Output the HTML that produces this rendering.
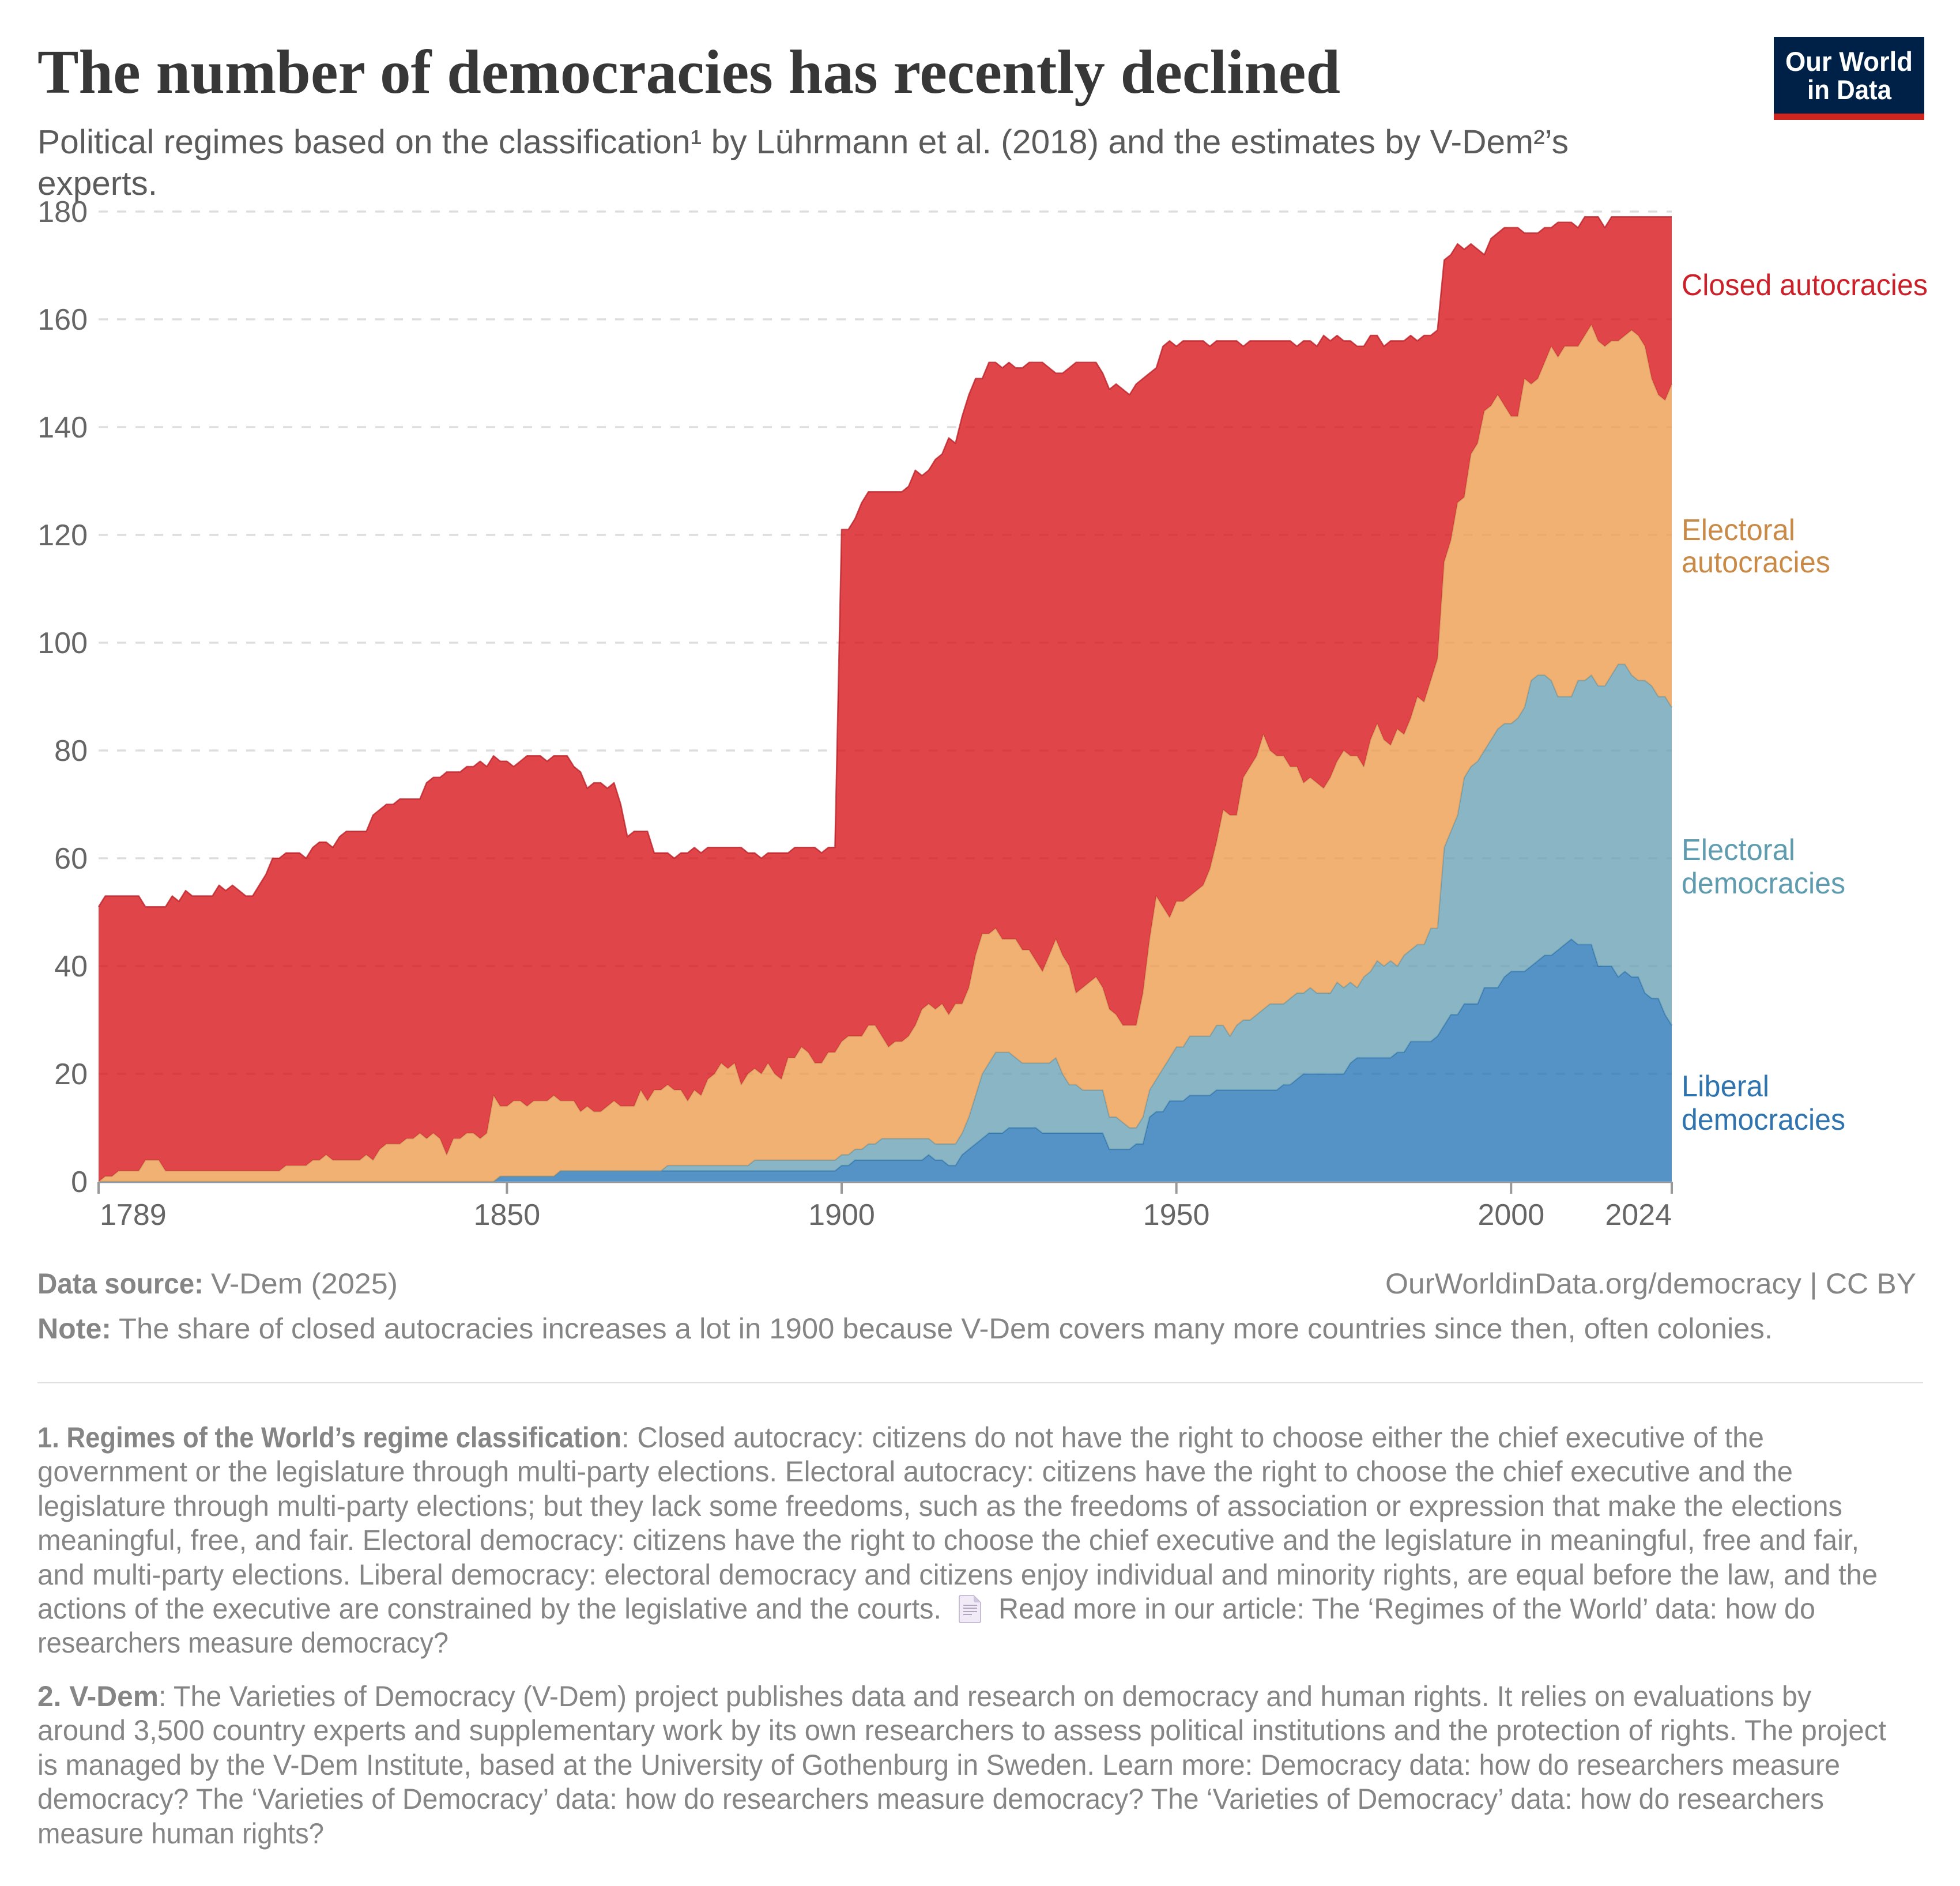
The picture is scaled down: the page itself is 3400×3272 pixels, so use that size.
<!DOCTYPE html>
<html lang="en">
<head>
<meta charset="utf-8">
<title>The number of democracies has recently declined</title>
<style>
html,body{margin:0;padding:0;background:#fff;}
svg{display:block;}
text{font-family:"Liberation Sans",Arial,sans-serif;}
.title{font-family:"Liberation Serif","Times New Roman",serif;font-weight:700;font-size:108px;fill:#373737;}
.sub{font-size:58px;fill:#5b5b5b;}
.foot{font-size:50px;fill:#858585;}
.note{font-size:50px;fill:#858585;}
.b{font-weight:700;}
.lab{font-size:52px;}
.tick{font-size:52px;fill:#666;}
</style>
</head>
<body>
<svg id="chart" xmlns="http://www.w3.org/2000/svg" width="3400" height="3272" viewBox="0 0 3400 3272">
<rect x="0" y="0" width="3400" height="3272" fill="#ffffff"/>

<text class="title" x="65" y="161" textLength="2260" lengthAdjust="spacingAndGlyphs">The number of democracies has recently declined</text>
<text class="sub" x="65" y="266" textLength="2656" lengthAdjust="spacingAndGlyphs">Political regimes based on the classification¹ by Lührmann et al. (2018) and the estimates by V-Dem²’s</text>
<text class="sub" x="65" y="338" textLength="208" lengthAdjust="spacingAndGlyphs">experts.</text>

<g>
<rect x="3077" y="64" width="261" height="133" fill="#002147"/>
<rect x="3077" y="197" width="261" height="11" fill="#ce261e"/>
<text x="3097" y="123" font-size="47" font-weight="700" fill="#ffffff" textLength="221" lengthAdjust="spacingAndGlyphs">Our World</text>
<text x="3135" y="172" font-size="47" font-weight="700" fill="#ffffff" textLength="146" lengthAdjust="spacingAndGlyphs">in Data</text>
</g>

<g id="grid"></g>
<g id="areas"></g>
<g id="axes"></g>

<text class="lab" x="2917" y="512" fill="#cb2029" textLength="427" lengthAdjust="spacingAndGlyphs">Closed autocracies</text>
<g>
<text class="lab" x="2917" y="937" fill="#c98a48" textLength="197" lengthAdjust="spacingAndGlyphs">Electoral</text>
<text class="lab" x="2917" y="993" fill="#c98a48" textLength="258" lengthAdjust="spacingAndGlyphs">autocracies</text>
</g>
<g>
<text class="lab" x="2917" y="1492" fill="#5f9cb0" textLength="197" lengthAdjust="spacingAndGlyphs">Electoral</text>
<text class="lab" x="2917" y="1550" fill="#5f9cb0" textLength="284" lengthAdjust="spacingAndGlyphs">democracies</text>
</g>
<g>
<text class="lab" x="2917" y="1902" fill="#2f74ae" textLength="152" lengthAdjust="spacingAndGlyphs">Liberal</text>
<text class="lab" x="2917" y="1960" fill="#2f74ae" textLength="284" lengthAdjust="spacingAndGlyphs">democracies</text>
</g>

<text class="note b" x="65" y="2244" textLength="288" lengthAdjust="spacingAndGlyphs">Data source:</text>
<text class="note" x="366" y="2244" textLength="324" lengthAdjust="spacingAndGlyphs">V-Dem (2025)</text>
<text class="note" x="2403" y="2244" textLength="921" lengthAdjust="spacingAndGlyphs">OurWorldinData.org/democracy | CC BY</text>
<text class="note b" x="65" y="2322" textLength="128" lengthAdjust="spacingAndGlyphs">Note:</text>
<text class="note" x="206" y="2322" textLength="2869" lengthAdjust="spacingAndGlyphs">The share of closed autocracies increases a lot in 1900 because V-Dem covers many more countries since then, often colonies.</text>
<line x1="65" y1="2399" x2="3336" y2="2399" stroke="#e0e0e0" stroke-width="2"/>

<g>
<text class="foot b" x="65" y="2511" textLength="1013" lengthAdjust="spacingAndGlyphs">1. Regimes of the World’s regime classification</text>
<text class="foot" x="1078" y="2511" textLength="1982" lengthAdjust="spacingAndGlyphs">: Closed autocracy: citizens do not have the right to choose either the chief executive of the</text>
<text class="foot" x="65" y="2570" textLength="3045" lengthAdjust="spacingAndGlyphs">government or the legislature through multi-party elections. Electoral autocracy: citizens have the right to choose the chief executive and the</text>
<text class="foot" x="65" y="2630" textLength="3131" lengthAdjust="spacingAndGlyphs">legislature through multi-party elections; but they lack some freedoms, such as the freedoms of association or expression that make the elections</text>
<text class="foot" x="65" y="2689" textLength="3160" lengthAdjust="spacingAndGlyphs">meaningful, free, and fair. Electoral democracy: citizens have the right to choose the chief executive and the legislature in meaningful, free and fair,</text>
<text class="foot" x="65" y="2749" textLength="3192" lengthAdjust="spacingAndGlyphs">and multi-party elections. Liberal democracy: electoral democracy and citizens enjoy individual and minority rights, are equal before the law, and the</text>
<text class="foot" x="65" y="2808" textLength="1568" lengthAdjust="spacingAndGlyphs">actions of the executive are constrained by the legislative and the courts.</text>
<g>
<path d="M1667 2768 H1689 L1701 2780 V2812 Q1701 2815 1698 2815 H1667 Q1664 2815 1664 2812 V2771 Q1664 2768 1667 2768 Z" fill="#f1ebf7" stroke="#b9adc9" stroke-width="1.5"/>
<path d="M1689 2768 L1701 2780 H1692 Q1689 2780 1689 2777 Z" fill="#cfc5de"/>
<path d="M1671 2785 H1695 M1671 2790 H1695 M1671 2796 H1695 M1671 2801 H1686" stroke="#9a8fac" stroke-width="1.5" fill="none"/>
</g>
<text class="foot" x="1732" y="2808" textLength="1417" lengthAdjust="spacingAndGlyphs">Read more in our article: The ‘Regimes of the World’ data: how do</text>
<text class="foot" x="65" y="2867" textLength="713" lengthAdjust="spacingAndGlyphs">researchers measure democracy?</text>
</g>

<g>
<text class="foot b" x="65" y="2960" textLength="210" lengthAdjust="spacingAndGlyphs">2. V-Dem</text>
<text class="foot" x="275" y="2960" textLength="2867" lengthAdjust="spacingAndGlyphs">: The Varieties of Democracy (V-Dem) project publishes data and research on democracy and human rights. It relies on evaluations by</text>
<text class="foot" x="65" y="3019" textLength="3207" lengthAdjust="spacingAndGlyphs">around 3,500 country experts and supplementary work by its own researchers to assess political institutions and the protection of rights. The project</text>
<text class="foot" x="65" y="3079" textLength="3127" lengthAdjust="spacingAndGlyphs">is managed by the V-Dem Institute, based at the University of Gothenburg in Sweden. Learn more: Democracy data: how do researchers measure</text>
<text class="foot" x="65" y="3138" textLength="3099" lengthAdjust="spacingAndGlyphs">democracy? The ‘Varieties of Democracy’ data: how do researchers measure democracy? The ‘Varieties of Democracy’ data: how do researchers</text>
<text class="foot" x="65" y="3198" textLength="497" lengthAdjust="spacingAndGlyphs">measure human rights?</text>
</g>
</svg>

<script>
const firstYear = 1789;

const liberalDemocracies = [
0,0,0,0,0,0,0,0,0,0,
0,0,0,0,0,0,0,0,0,0,
0,0,0,0,0,0,0,0,0,0,
0,0,0,0,0,0,0,0,0,0,
0,0,0,0,0,0,0,0,0,0,
0,0,0,0,0,0,0,0,0,0,
1,1,1,1,1,1,1,1,1,2,
2,2,2,2,2,2,2,2,2,2,
2,2,2,2,2,2,2,2,2,2,
2,2,2,2,2,2,2,2,2,2,
2,2,2,2,2,2,2,2,2,2,
2,3,3,4,4,4,4,4,4,4,
4,4,4,4,5,4,4,3,3,5,
6,7,8,9,9,9,10,10,10,10,
10,9,9,9,9,9,9,9,9,9,
9,6,6,6,6,7,7,12,13,13,
15,15,15,16,16,16,16,17,17,17,
17,17,17,17,17,17,17,18,18,19,
20,20,20,20,20,20,20,22,23,23,
23,23,23,23,24,24,26,26,26,26,
27,29,31,31,33,33,33,36,36,36,
38,39,39,39,40,41,42,42,43,44,
45,44,44,44,40,40,40,38,39,38,
38,35,34,34,31,29];

const electoralDemocracies = [
0,0,0,0,0,0,0,0,0,0,
0,0,0,0,0,0,0,0,0,0,
0,0,0,0,0,0,0,0,0,0,
0,0,0,0,0,0,0,0,0,0,
0,0,0,0,0,0,0,0,0,0,
0,0,0,0,0,0,0,0,0,0,
0,0,0,0,0,0,0,0,0,0,
0,0,0,0,0,0,0,0,0,0,
0,0,0,0,0,1,1,1,1,1,
1,1,1,1,1,1,1,1,2,2,
2,2,2,2,2,2,2,2,2,2,
2,2,2,2,2,3,3,4,4,4,
4,4,4,4,3,3,3,4,4,4,
6,9,12,13,15,15,14,13,12,12,
12,13,13,14,11,9,9,8,8,8,
8,6,6,5,4,3,5,5,6,8,
8,10,10,11,11,11,11,12,12,10,
12,13,13,14,15,16,16,15,16,16,
15,16,15,15,15,17,16,15,13,15,
16,18,17,18,16,18,17,18,18,21,
20,33,34,37,42,44,45,44,46,48,
47,46,47,49,53,53,52,51,47,46,
45,49,49,50,52,52,54,58,57,56,
55,58,58,56,59,59];

const electoralAutocracies = [
0,1,1,2,2,2,2,4,4,4,
2,2,2,2,2,2,2,2,2,2,
2,2,2,2,2,2,2,2,3,3,
3,3,4,4,5,4,4,4,4,4,
5,4,6,7,7,7,8,8,9,8,
9,8,5,8,8,9,9,8,9,16,
13,13,14,14,13,14,14,14,15,13,
13,13,11,12,11,11,12,13,12,12,
12,15,13,15,15,15,14,14,12,14,
13,16,17,19,18,19,15,17,17,16,
18,16,15,19,19,21,20,18,18,20,
20,21,22,21,21,22,22,19,17,18,
18,19,21,24,25,25,26,24,26,24,
24,26,26,24,23,21,21,22,21,21,
19,17,20,22,22,22,17,19,20,21,
19,20,19,18,19,19,23,28,34,30,
26,27,27,26,27,28,31,34,40,41,
39,45,47,48,51,47,46,46,43,42,
39,39,39,38,40,41,44,42,43,39,
43,44,42,40,44,41,43,46,45,46,
50,53,54,58,52,58,59,63,62,62,
59,57,56,61,55,55,58,62,63,65,
65,62,64,65,64,63,62,60,61,64,
64,62,57,56,55,60];

const closedAutocracies = [
51,52,52,51,51,51,51,47,47,47,
49,51,50,52,51,51,51,51,53,52,
53,52,51,51,53,55,58,58,58,58,
58,57,58,59,58,58,60,61,61,61,
60,64,63,63,63,64,63,63,62,66,
66,67,71,68,68,68,68,70,68,63,
64,64,62,63,65,64,64,63,63,64,
64,62,63,59,61,61,59,59,56,50,
51,48,50,44,44,43,43,44,46,45,
45,43,42,40,41,40,44,41,40,40,
39,41,42,38,39,37,38,40,39,38,
38,95,94,96,99,99,99,101,103,102,
102,102,103,99,99,102,102,107,104,109,
110,107,103,106,105,106,107,106,108,109,
111,113,109,105,108,111,117,116,115,114,
114,115,117,118,117,119,114,105,98,104,
107,103,104,103,102,101,97,93,87,88,
88,80,79,77,73,76,77,77,79,78,
82,81,81,84,81,79,76,77,76,78,
75,72,73,75,72,73,71,66,68,64,
61,56,53,48,46,39,36,29,31,30,
33,35,35,27,28,27,25,22,25,23,
23,22,22,20,23,22,23,23,22,21,
22,24,30,33,34,31];

const yTickLabels = [0, 20, 40, 60, 80, 100, 120, 140, 160, 180];
const xTickLabels = [1789, 1850, 1900, 1950, 2000, 2024];

const SVG_NS = 'http://www.w3.org/2000/svg';
const plotLeft = 171, plotRight = 2900, plotBottom = 2050, plotTop = 367;
const lastYear = firstYear + closedAutocracies.length - 1;
const yMax = yTickLabels[yTickLabels.length - 1];

function xScale(year) {
  return plotLeft + (year - firstYear) * (plotRight - plotLeft) / (lastYear - firstYear);
}
function yScale(value) {
  return plotBottom - value * (plotBottom - plotTop) / yMax;
}
function pt(x, y) {
  return x.toFixed(1) + ' ' + y.toFixed(1);
}

const gridGroup = document.getElementById('grid');
const areaGroup = document.getElementById('areas');
const axisGroup = document.getElementById('axes');

yTickLabels.forEach(function (value) {
  if (value !== 0) {
    const gridLine = document.createElementNS(SVG_NS, 'line');
    
    
    gridLine.setAttribute('x1', plotLeft);
    gridLine.setAttribute('x2', plotRight);
    gridLine.setAttribute('y1', yScale(value));
    gridLine.setAttribute('y2', yScale(value));
    gridLine.setAttribute('stroke', '#dddddd');
    gridLine.setAttribute('stroke-width', '3.5');
    gridLine.setAttribute('stroke-dasharray', '16 16');
    gridGroup.appendChild(gridLine);
  }
  const label = document.createElementNS(SVG_NS, 'text');
  
  
  label.setAttribute('class', 'tick');
  label.setAttribute('x', 152);
  label.setAttribute('y', yScale(value) + 18);
  label.setAttribute('text-anchor', 'end');
  label.textContent = String(value);
  axisGroup.appendChild(label);
});

function drawLayer(name, values, base, fill, stroke) {
  const top = values.map(function (v, i) { return base[i] + v; });
  const upper = top.map(function (v, i) { return pt(xScale(firstYear + i), yScale(v)); });
  const lower = base.map(function (v, i) { return pt(xScale(firstYear + i), yScale(v)); }).reverse();

  const area = document.createElementNS(SVG_NS, 'path');
  
  
  area.setAttribute('d', 'M' + upper.join(' L') + ' L' + lower.join(' L') + ' Z');
  area.setAttribute('fill', fill);
  area.setAttribute('fill-opacity', '0.8');
  areaGroup.appendChild(area);

  const edge = document.createElementNS(SVG_NS, 'path');
  
  
  edge.setAttribute('d', 'M' + upper.join(' L'));
  edge.setAttribute('fill', 'none');
  edge.setAttribute('stroke', stroke);
  edge.setAttribute('stroke-width', '2.5');
  edge.setAttribute('stroke-opacity', '0.75');
  edge.setAttribute('stroke-linejoin', 'round');
  areaGroup.appendChild(edge);
  return top;
}

let stackBase = closedAutocracies.map(function () { return 0; });
stackBase = drawLayer('liberal-democracies', liberalDemocracies, stackBase, '#2a77b6', '#2a6fa8');
stackBase = drawLayer('electoral-democracies', electoralDemocracies, stackBase, '#6da3b5', '#5f96a8');
stackBase = drawLayer('electoral-autocracies', electoralAutocracies, stackBase, '#ed9e50', '#c99a68');
stackBase = drawLayer('closed-autocracies', closedAutocracies, stackBase, '#d8181c', '#b81c24');

const baseLine = document.createElementNS(SVG_NS, 'line');


baseLine.setAttribute('x1', plotLeft);
baseLine.setAttribute('x2', plotRight + 2);
baseLine.setAttribute('y1', plotBottom + 1.5);
baseLine.setAttribute('y2', plotBottom + 1.5);
baseLine.setAttribute('stroke', '#999999');
baseLine.setAttribute('stroke-width', '2');
axisGroup.appendChild(baseLine);

xTickLabels.forEach(function (year, i) {
  const tick = document.createElementNS(SVG_NS, 'line');
  
  
  tick.setAttribute('x1', xScale(year));
  tick.setAttribute('x2', xScale(year));
  tick.setAttribute('y1', plotBottom + 1);
  tick.setAttribute('y2', plotBottom + 21);
  tick.setAttribute('stroke', '#999999');
  tick.setAttribute('stroke-width', '4');
  axisGroup.appendChild(tick);

  const label = document.createElementNS(SVG_NS, 'text');
  
  
  label.setAttribute('class', 'tick');
  label.setAttribute('y', 2125);
  if (i === 0) {
    label.setAttribute('x', xScale(year) + 2);
    label.setAttribute('text-anchor', 'start');
  } else if (i === xTickLabels.length - 1) {
    label.setAttribute('x', xScale(year));
    label.setAttribute('text-anchor', 'end');
  } else {
    label.setAttribute('x', xScale(year));
    label.setAttribute('text-anchor', 'middle');
  }
  label.textContent = String(year);
  axisGroup.appendChild(label);
});
</script>
</body>
</html>
